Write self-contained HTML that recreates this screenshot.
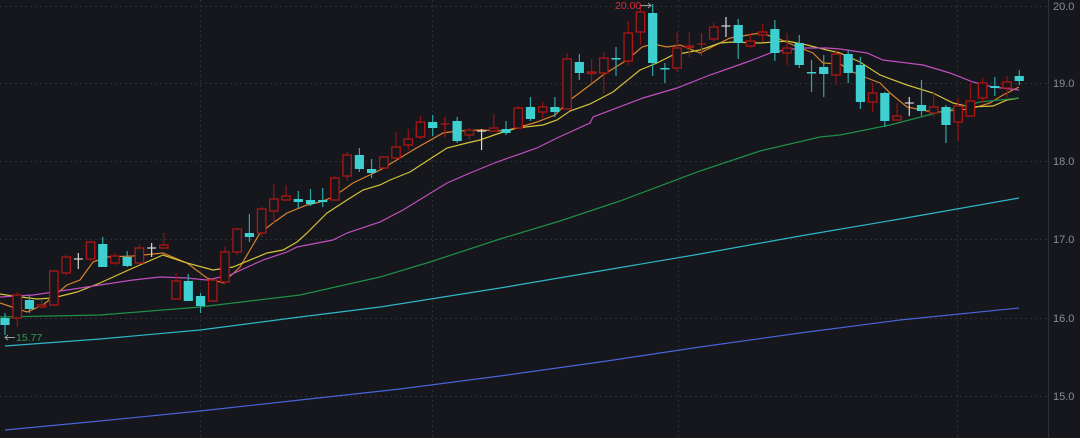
<!DOCTYPE html>
<html><head><meta charset="utf-8"><style>
html,body{margin:0;padding:0;background:#15171c;overflow:hidden}
svg{display:block}
text{font-family:"Liberation Sans",sans-serif}
</style></head><body>
<svg id="s" width="1080" height="438" viewBox="0 0 1080 438" xmlns="http://www.w3.org/2000/svg">
<rect width="1080" height="438" fill="#15171c"/>
<g stroke="#2c2f36" stroke-width="1" stroke-dasharray="2,3">
<line x1="0" y1="6.5" x2="1048" y2="6.5"/><line x1="0" y1="83.5" x2="1048" y2="83.5"/>
<line x1="0" y1="161.5" x2="1048" y2="161.5"/><line x1="0" y1="239.5" x2="1048" y2="239.5"/>
<line x1="0" y1="318.5" x2="1048" y2="318.5"/><line x1="0" y1="396.5" x2="1048" y2="396.5"/>
<line x1="200.5" y1="0" x2="200.5" y2="438"/><line x1="432.5" y1="0" x2="432.5" y2="438"/>
<line x1="678.5" y1="0" x2="678.5" y2="438"/><line x1="957.5" y1="0" x2="957.5" y2="438"/>
</g>
<line x1="1048.5" y1="0" x2="1048.5" y2="438" stroke="#2e3138"/>
<g fill="#8a8d93" font-size="11">
<text x="1053" y="10">20.0</text><text x="1053" y="87">19.0</text><text x="1053" y="165">18.0</text>
<text x="1053" y="243">17.0</text><text x="1053" y="322">16.0</text><text x="1053" y="400">15.0</text>
</g>
<g id="ma" fill="none" stroke-width="1.2"></g>
<g id="c"></g>
<text x="615" y="9" fill="#d0303a" font-size="10.5">20.00</text>
<path d="M641 5.5H651M648 3l3 2.5-3 2.5" stroke="#9a9a9a" fill="none" stroke-width="1"/>
<path d="M15 337.5H5M8 335l-3 2.5 3 2.5" stroke="#9a9a9a" fill="none" stroke-width="1"/>
<text x="16" y="341" fill="#2f9e4e" font-size="10.5">15.77</text>
</svg>
<script>
var NS="http://www.w3.org/2000/svg";
// [type, bodyTop, bodyBot, high, low]; type r=red,c=cyan,w=white cross,rc red cross
var d=[["c",318,325,313,335],["r",295,318,292,327],["c",300,309,295,313],["r",305,307,300,308],["r",271,305,270,306],["r",257,273,255,275],["w",259,259,253,269],["r",242,259,241,261],["c",244,267,237,267],["r",256,263,253,265],["c",257,266,251,267],["r",248,263,244,264],["w",248,248,243,257],["r",245,248,233,248],["r",281,299,273,299],["c",281,301,274,301],["c",296,306,293,313],["r",280,301,280,301],["r",252,282,247,285],["r",229,252,228,255],["c",233,237,214,242],["r",209,233,207,237],["r",199,211,184,223],["r",196,200,185,200],["c",199,202,191,208],["c",200,204,189,206],["c",200,202,188,207],["r",178,200,176,200],["r",155,176,152,181],["c",155,169,148,172],["c",169,173,159,178],["r",157,168,156,169],["r",147,158,132,160],["r",139,145,129,150],["r",122,137,116,139],["c",122,128,115,136],["rc",124,124,117,137],["c",121,141,117,143],["r",130,135,128,140],["w",131,131,129,150],["r",128,131,114,132],["c",129,133,121,135],["r",108,128,106,129],["c",107,119,97,121],["r",107,112,102,118],["c",107,112,97,117],["r",59,109,53,110],["c",62,73,54,80],["r",72,73,59,83],["r",58,73,52,93],["c",58,59,47,76],["r",33,61,21,65],["r",12,32,5,45],["c",13,63,4,76],["c",68,68,63,83],["r",48,68,32,72],["r",46,47,32,57],["rc",44,44,33,56],["r",27,39,23,42],["w",26,26,17,37],["c",25,43,19,59],["r",41,46,33,48],["r",32,35,24,42],["c",29,53,20,61],["r",48,53,33,65],["c",43,65,35,68],["c",72,72,60,92],["c",67,74,55,97],["r",54,75,49,85],["c",54,73,50,83],["c",65,102,57,109],["r",93,102,83,112],["c",93,121,92,127],["r",116,120,103,120],["w",103,103,97,116],["c",105,111,80,116],["r",107,113,92,117],["c",107,125,105,143],["r",106,122,98,141],["r",101,116,83,117],["r",83,98,78,103],["c",86,88,77,96],["r",82,88,76,97],["c",76,81,70,85]];
var g=document.getElementById("c"),h="";
for(var i=0;i<d.length;i++){var x=5+i*12.22,t=d[i][0],a=d[i][1],b=d[i][2],hi=d[i][3],lo=d[i][4];
 var col=t=="c"?"#3ecfd0":t=="w"?"#d8d8d8":"#b01515";
 if(t=="c"){h+='<line x1="'+x+'" y1="'+hi+'" x2="'+x+'" y2="'+lo+'" stroke="#2aa9ab" stroke-width="1.2"/>';
  h+='<rect x="'+(x-4.6)+'" y="'+a+'" width="9.2" height="'+Math.max(b-a,1.5)+'" fill="'+col+'"/>';}
 else if(t=="r"){h+='<line x1="'+x+'" y1="'+hi+'" x2="'+x+'" y2="'+a+'" stroke="#8e1414" stroke-width="1.2"/><line x1="'+x+'" y1="'+b+'" x2="'+x+'" y2="'+lo+'" stroke="#8e1414" stroke-width="1.2"/>';
  h+='<rect x="'+(x-4.2)+'" y="'+a+'" width="8.4" height="'+Math.max(b-a,1.5)+'" fill="#15171c" stroke="'+col+'" stroke-width="1.3"/>';}
 else {h+='<line x1="'+x+'" y1="'+hi+'" x2="'+x+'" y2="'+lo+'" stroke="'+col+'" stroke-width="1.2"/><line x1="'+(x-4.5)+'" y1="'+a+'" x2="'+(x+4.5)+'" y2="'+a+'" stroke="'+col+'" stroke-width="1.2"/>';}
}
g.innerHTML=h;
var ma=[
["#d9822b","0,303 27,312 43,305 67,285 80,280 93,262 107,257 133,256 163,253 187,263 207,278 223,283 240,267 260,233 273,223 287,213 307,205 320,202 333,197 353,183 380,170 400,158 413,150 443,133 457,131 480,130 503,131 520,127 537,122 555,115 570,100 590,85 603,75 627,60 642,47 653,44 667,47 680,45 700,53 720,43 730,38 760,33 777,38 793,45 813,53 823,63 840,64 853,72 867,78 880,83 890,93 907,107 927,111 940,112 957,110 970,109 990,103 1003,95 1019,87"],
["#d4c23a","0,294 13,296 37,299 53,298 77,292 100,283 133,268 163,255 187,263 213,270 233,267 267,253 283,250 297,242 307,233 327,213 347,200 363,190 380,185 390,180 410,172 430,159 447,148 467,143 480,140 497,134 517,128 543,125 557,120 570,111 590,104 613,92 640,70 657,63 673,55 700,50 720,43 733,42 760,43 787,41 807,45 827,50 840,53 860,62 880,75 907,85 933,93 953,103 970,107 993,106 1007,100 1019,98"],
["#c04fc0","0,297 33,295 67,290 100,285 133,280 160,277 187,278 207,280 230,275 263,260 287,252 297,247 333,240 347,233 380,222 403,210 447,183 470,173 497,162 537,148 557,138 590,123 593,117 643,98 677,88 710,75 747,62 773,52 800,48 827,48 840,49 867,53 883,60 923,65 950,73 973,82 993,87 1019,90"],
["#1f8f48","0,317 100,315 200,307 300,295 380,277 430,262 500,239 560,221 620,201 700,171 760,151 820,137 840,135 890,125 940,112 980,102 1019,98"],
["#2fb6c8","5,346 100,339 200,330 300,317 380,307 500,288 600,271 700,254 800,236 900,219 1019,198"],
["#4a63d8","5,430 100,421 200,411 300,400 400,389 500,376 600,362 700,347 800,333 900,320 1019,308"]];
var mg=document.getElementById("ma"),s="";
ma.forEach(function(m){s+='<polyline points="'+m[1]+'" stroke="'+m[0]+'"/>';});
mg.innerHTML=s;
</script>
</body></html>
